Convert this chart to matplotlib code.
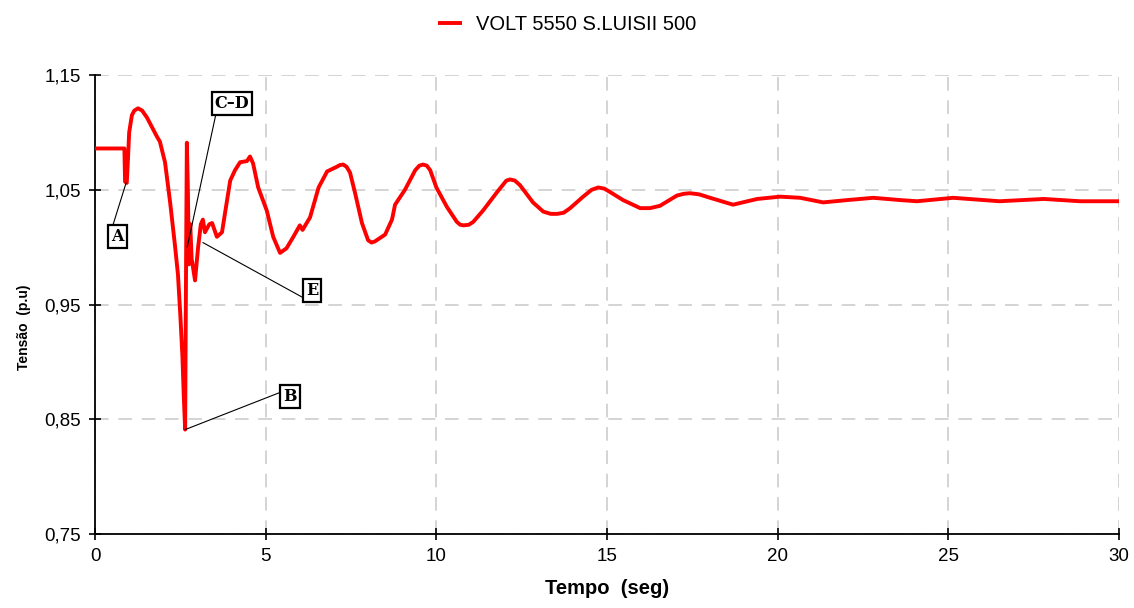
import matplotlib
matplotlib.use("Agg")
import matplotlib.pyplot as plt
from matplotlib.ticker import FuncFormatter

# Bus voltage at 5550 S.LUISII 500 kV after the disturbance (time in s, voltage in p.u.)
tempo = [
    0.00, 0.86, 0.88, 0.93, 0.97, 1.00, 1.08, 1.15, 1.26, 1.38, 1.52, 1.82, 1.90, 2.05, 2.20,
    2.34, 2.43, 2.50, 2.56, 2.60, 2.64, 2.67, 2.69, 2.72, 2.75, 2.79, 2.83, 2.93, 3.02, 3.10,
    3.16, 3.22, 3.35, 3.43, 3.57, 3.72, 3.81, 3.96, 4.10, 4.25, 4.45, 4.54, 4.63, 4.78, 5.03,
    5.22, 5.42, 5.61, 5.81, 6.00, 6.08, 6.30, 6.55, 6.80, 7.08, 7.17, 7.27, 7.37, 7.47, 7.62,
    7.82, 8.00, 8.10, 8.20, 8.50, 8.70, 8.79, 9.08, 9.38, 9.50, 9.61, 9.72, 9.82, 10.00, 10.31,
    10.60, 10.70, 10.80, 10.95, 11.08, 11.37, 11.78, 12.05, 12.16, 12.30, 12.45, 12.83, 13.13,
    13.35, 13.54, 13.73, 13.92, 14.30, 14.55, 14.74, 14.92, 15.09, 15.47, 15.97, 16.26, 16.55,
    17.05, 17.25, 17.43, 17.70, 18.02, 18.69, 19.40, 20.07, 20.66, 21.33, 22.03, 22.80, 23.60,
    24.08, 25.14, 26.50, 27.80, 28.86, 30.00,
]
tensao = [
    1.086, 1.086, 1.057, 1.056, 1.080, 1.100, 1.115, 1.119, 1.121, 1.119, 1.113, 1.096, 1.092, 1.074, 1.039,
    1.002, 0.976, 0.940, 0.905, 0.870, 0.841, 1.000, 1.091, 1.050, 0.985, 1.020, 0.990, 0.971, 1.000, 1.020,
    1.024, 1.013, 1.020, 1.021, 1.009, 1.013, 1.030, 1.058, 1.067, 1.074, 1.075, 1.079, 1.073, 1.052, 1.032,
    1.009, 0.995, 0.999, 1.009, 1.019, 1.015, 1.026, 1.052, 1.066, 1.070, 1.0715, 1.072, 1.070, 1.065, 1.047,
    1.021, 1.006, 1.004, 1.005, 1.011, 1.024, 1.037, 1.050, 1.067, 1.071, 1.072, 1.071, 1.067, 1.052, 1.035,
    1.022, 1.0195, 1.019, 1.0195, 1.022, 1.032, 1.048, 1.058, 1.059, 1.058, 1.054, 1.039, 1.031,
    1.029, 1.029, 1.030, 1.034, 1.044, 1.050, 1.052, 1.051, 1.048, 1.041, 1.034, 1.034, 1.036,
    1.045, 1.0465, 1.047, 1.046, 1.043, 1.037, 1.042, 1.044, 1.043, 1.039, 1.041, 1.043, 1.041,
    1.040, 1.043, 1.040, 1.042, 1.040, 1.040,
]

serie = "VOLT 5550 S.LUISII 500"
x_ticks = [0, 5, 10, 15, 20, 25, 30]
y_ticks = [0.75, 0.85, 0.95, 1.05, 1.15]

# Event markers: label, point on the curve, label position, line attachment on the box
eventos = [
    ("A",   (0.91, 1.056), (0.66, 1.009), (0.05, 1.0)),
    ("B",   (2.64, 0.841), (5.71, 0.870), (0.0, 0.8)),
    ("C\u2013D", (2.70, 1.000), (4.01, 1.125), (0.05, 0.0)),
    ("E",   (3.16, 1.004), (6.36, 0.962), (0.0, 0.0)),
]

plt.rcParams["font.family"] = ["Liberation Sans", "DejaVu Sans"]

fig = plt.figure(figsize=(11.34, 6.08), dpi=100)
ax = fig.add_axes([0.0838, 0.1217, 0.9030, 0.7549])

ax.plot(tempo, tensao, color="#ff0000", lw=2.8, solid_joinstyle="round",
        solid_capstyle="butt", label=serie, zorder=3)

ax.set_xlim(0, 30)
ax.set_ylim(0.75, 1.15)
ax.set_xticks(x_ticks)
ax.set_yticks(y_ticks)
ax.yaxis.set_major_formatter(FuncFormatter(lambda v, _: f"{v:.2f}".replace(".", ",")))
ax.tick_params(axis="both", direction="inout", length=8, width=1.2,
               labelsize=13.5, color="black", pad=6)

dash = (0, (7, 5))
ax.grid(True, color="#d4d4d4", linestyle=dash, linewidth=1.4, zorder=0)
for side in ("top", "right"):
    ax.spines[side].set_visible(False)
for side in ("left", "bottom"):
    ax.spines[side].set_linewidth(1.3)
    ax.spines[side].set_color("black")
ax.axhline(1.15, color="#d4d4d4", linestyle=dash, linewidth=1.4, zorder=0)
ax.axvline(30, color="#d4d4d4", linestyle=dash, linewidth=1.4, zorder=0)

ax.set_xlabel("Tempo  (seg)", fontsize=14.5, fontweight="bold", labelpad=10)
ax.set_ylabel("Tens\u00e3o  (p.u)", fontsize=10, fontweight="bold")
ax.yaxis.set_label_coords(-0.063, 0.45)

for rotulo, ponto, caixa, rel in eventos:
    ax.annotate(
        rotulo, xy=ponto, xytext=caixa, ha="center", va="center",
        fontsize=11.5, fontweight="bold", family="DejaVu Serif",
        bbox=dict(boxstyle="square,pad=0.18", fc="white", ec="black", lw=1.6),
        arrowprops=dict(arrowstyle="-", color="black", lw=0.8, relpos=rel,
                        shrinkA=0, shrinkB=0),
        zorder=5,
    )

fig.legend(loc="center", bbox_to_anchor=(0.5, 1 - 25 / 608), frameon=False,
           fontsize=14.5, handlelength=1.2, handletextpad=0.7)

fig.savefig("out.png", dpi=100, facecolor="white")
